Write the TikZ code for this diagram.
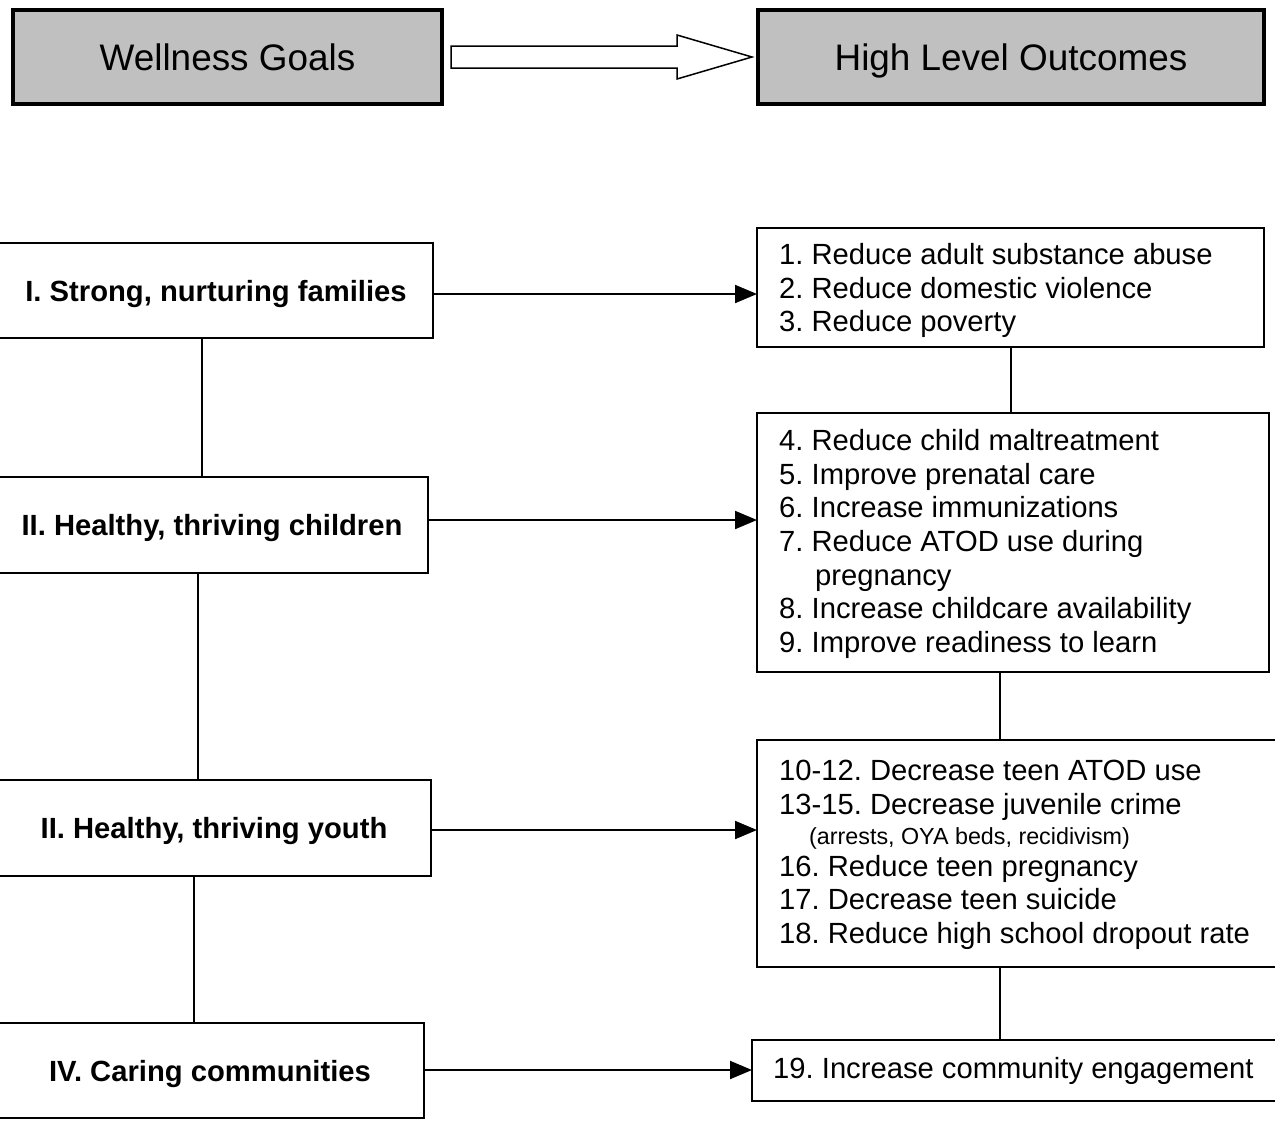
\documentclass[tikz,border=0pt]{standalone}
\usepackage{fontspec}
\setmainfont{Liberation Sans}
\usetikzlibrary{arrows.meta,calc}
\definecolor{boxgray}{HTML}{C0C0C0}
\newcommand\myoutfont{\fontsize{29.2}{33.6}\selectfont\frenchspacing}
\newcommand\mysmallfont{\fontsize{23.3}{28}\selectfont\frenchspacing}
\newcommand\mytitlefont{\fontsize{36.9}{44}\selectfont}
\newcommand\mygoalfont{\fontsize{29.2}{33.6}\selectfont\bfseries\frenchspacing}
\begin{document}
\begin{tikzpicture}[x=1pt,y=-1pt,
  topbox/.style={draw, line width=4pt, fill=boxgray, inner sep=0pt, outer sep=0pt,
    font=\mytitlefont, text height=27pt, text depth=0pt},
  plainbox/.style={draw, line width=2pt, fill=white, inner sep=0pt, outer sep=0pt},
  goaltext/.style={font=\mygoalfont, anchor=base, inner sep=0pt},
  outtext/.style={font=\myoutfont, align=left, anchor=north west, inner sep=0pt},
  link/.style={line width=2pt},
  arr/.style={line width=2pt, -{Triangle[length=22pt,width=18pt]}},
  blockarrow/.style={line width=1.5pt, fill=white, line join=miter}]
\useasboundingbox (0,0) rectangle (1275,1120);

% header
\node[topbox, minimum width=429pt, minimum height=94pt] (wg) at (227.5,57) {Wellness Goals};
\node[topbox, minimum width=506pt, minimum height=94pt] (hlo) at (1011,57) {High Level Outcomes};
\draw[blockarrow] ($(wg.east)+(9,-11)$) -- ++(226,0) -- ++(0,-11) -- ++(75,22)
   -- ++(-75,22) -- ++(0,-11) -- ++(-226,0) -- cycle;

% wellness goals (left)
\node[plainbox, minimum width=438pt, minimum height=95pt] (b1) at (214,290.5) {};
\node[plainbox, minimum width=433pt, minimum height=96pt] (b2) at (211.5,525) {};
\node[plainbox, minimum width=436pt, minimum height=96pt] (b3) at (213,828) {};
\node[plainbox, minimum width=429pt, minimum height=95pt] (b4) at (209.5,1070.5) {};
\node[goaltext] (t1) at (216,301) {I. Strong, nurturing families};
\node[goaltext] (t2) at (212,535.5) {II. Healthy, thriving children};
\node[goaltext] (t3) at (214,838.5) {II. Healthy, thriving youth};
\node[goaltext] (t4) at (210,1081) {IV. Caring communities};

% outcomes (right)
\node[plainbox, minimum width=507pt, minimum height=119pt] (r1) at (1010.5,287.5) {};
\node[plainbox, minimum width=512pt, minimum height=259pt] (r2) at (1013,542.5) {};
\node[plainbox, minimum width=533pt, minimum height=227pt] (r3) at (1023.5,853.5) {};
\node[plainbox, minimum width=538pt, minimum height=61pt] (r4) at (1021,1070.5) {};

\node[outtext] (o1) at (779,241) {\strut 1. Reduce adult substance abuse\\
  2. Reduce domestic violence\\
  3. Reduce poverty};
\node[outtext] (o2) at (779,427) {\strut 4. Reduce child maltreatment\\
  5. Improve prenatal care\\
  6. Increase immunizations\\
  7. Reduce ATOD use during\\
  \hspace*{36pt}pregnancy\\
  8. Increase childcare availability\\
  9. Improve readiness to learn};
\node[outtext] (o3) at (779,757) {\strut 10-12. Decrease teen ATOD use\\
  13-15. Decrease juvenile crime\\[-3.6pt]
  \hspace*{30pt}{\mysmallfont (arrests, OYA beds, recidivism)}\\[-1.6pt]
  16. Reduce teen pregnancy\\
  17. Decrease teen suicide\\
  18. Reduce high school dropout rate};
\node[outtext] (o4) at (773,1055) {\strut 19. Increase community engagement};

% connectors
\coordinate (xa) at (202,0);
\coordinate (xb) at (198,0);
\coordinate (xc) at (194,0);
\coordinate (xd) at (1000,0);
\coordinate (ya) at (0,294);
\coordinate (yb) at (0,520);
\coordinate (yc) at (0,830);
\coordinate (yd) at (0,1070);

\draw[link] (b1.south -| xa) -- (b2.north -| xa);
\draw[link] (b2.south -| xb) -- (b3.north -| xb);
\draw[link] (b3.south -| xc) -- (b4.north -| xc);

\draw[link] (r1.south) -- (r1.south |- r2.north);
\draw[link] (r2.south -| xd) -- (r3.north -| xd);
\draw[link] (r3.south -| xd) -- (r4.north -| xd);

\draw[arr] (b1.east |- ya) -- (r1.west |- ya);
\draw[arr] (b2.east |- yb) -- (r2.west |- yb);
\draw[arr] (b3.east |- yc) -- (r3.west |- yc);
\draw[arr] (b4.east |- yd) -- (r4.west |- yd);
\end{tikzpicture}
\end{document}
